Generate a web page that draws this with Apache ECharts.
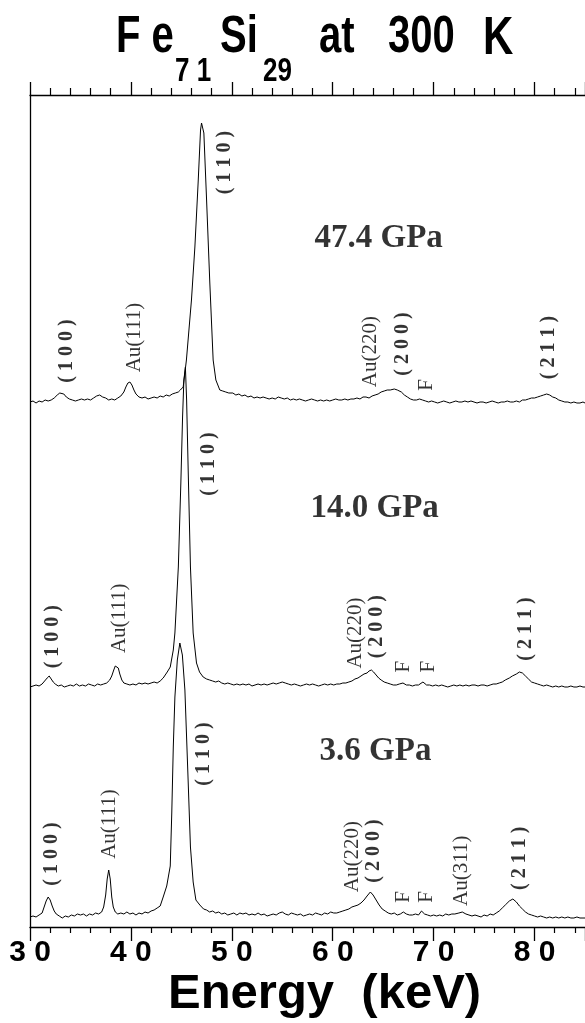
<!DOCTYPE html>
<html><head><meta charset="utf-8">
<script src="https://cdn.jsdelivr.net/npm/echarts@6/dist/echarts.min.js"></script>
<style>html,body{margin:0;padding:0;background:#fff}#c{width:585px;height:1023px}</style>
</head><body><div id="c"></div>
<script>
// ---- data: [energy keV, intensity (arb. units)] ----
const spectrum36 = [[30.0,10],[30.3,11],[30.6,10],[30.9,12],[31.2,14],[31.4,20],[31.6,26],[31.8,30],[32.0,27],[32.2,21],[32.4,16],[32.6,13],[32.9,11],[33.2,9],[33.5,11],[33.8,10],[34.1,12],[34.4,11],[34.7,13],[35.0,12],[35.3,13],[35.6,11],[35.9,13],[36.2,12],[36.5,14],[36.8,13],[37.1,15],[37.3,20],[37.5,32],[37.65,48],[37.8,57],[37.95,48],[38.1,30],[38.25,20],[38.45,15],[38.7,13],[39.0,14],[39.3,13],[39.6,15],[39.9,13],[40.2,14],[40.5,12],[40.8,14],[41.1,13],[41.4,15],[41.7,14],[42.0,16],[42.3,17],[42.6,19],[42.9,21],[43.2,30],[43.55,41],[43.9,61],[44.05,114],[44.2,180],[44.36,230],[44.6,267],[44.85,284],[45.1,272],[45.35,237],[45.67,147],[45.9,80],[46.17,45],[46.44,27],[46.83,22],[47.2,18],[47.5,17],[47.8,15],[48.1,16],[48.4,14],[48.7,15],[49.0,13],[49.3,14],[49.6,12],[49.9,13],[50.2,14],[50.5,12],[50.8,14],[51.1,13],[51.4,14],[51.7,12],[52.0,13],[52.3,12],[52.6,14],[52.9,12],[53.2,13],[53.5,11],[53.8,12],[54.1,13],[54.4,12],[54.7,14],[55.0,15],[55.3,13],[55.6,12],[55.9,14],[56.2,13],[56.5,12],[56.8,13],[57.1,11],[57.4,12],[57.7,13],[58.0,12],[58.3,14],[58.6,13],[58.9,12],[59.2,14],[59.5,13],[59.8,15],[60.1,14],[60.4,14],[60.7,15],[61.0,16],[61.3,17],[61.6,18],[61.9,20],[62.2,21],[62.5,22],[62.8,24],[63.1,27],[63.4,31],[63.73,35],[64.0,32],[64.3,27],[64.6,22],[64.9,18],[65.2,16],[65.5,14],[65.8,13],[66.1,14],[66.4,12],[66.7,13],[67.0,15],[67.3,13],[67.6,12],[67.9,12],[68.2,13],[68.5,12],[68.8,16],[69.1,13],[69.4,12],[69.7,11],[70.0,12],[70.3,11],[70.6,12],[70.9,11],[71.2,13],[71.5,12],[71.8,13],[72.1,13],[72.5,14],[72.84,15],[73.2,13],[73.5,12],[73.8,11],[74.1,12],[74.4,11],[74.7,10],[75.0,12],[75.3,11],[75.6,13],[75.9,12],[76.2,14],[76.5,16],[76.8,19],[77.1,22],[77.5,26],[77.85,28],[78.2,25],[78.5,21],[78.8,18],[79.1,15],[79.4,13],[79.7,12],[80.0,11],[80.3,10],[80.6,11],[80.9,10],[81.2,9],[81.5,10],[81.8,9],[82.1,10],[82.4,9],[82.7,10],[83.0,9],[83.3,10],[83.6,9],[83.9,9],[84.2,10],[84.5,9],[84.8,9],[85.0,9]];

const spectrum140 = [[30.0,9],[30.3,10],[30.6,11],[30.9,10],[31.2,12],[31.45,15],[31.7,18],[31.9,20],[32.1,17],[32.3,14],[32.5,12],[32.8,10],[33.1,11],[33.4,9],[33.7,10],[34.0,11],[34.3,10],[34.6,12],[34.9,10],[35.2,11],[35.5,10],[35.8,12],[36.1,11],[36.4,10],[36.7,12],[37.0,11],[37.3,12],[37.6,13],[37.9,16],[38.1,20],[38.3,26],[38.45,30],[38.6,32],[38.75,28],[38.9,22],[39.1,16],[39.3,13],[39.6,12],[39.9,11],[40.2,12],[40.5,11],[40.8,13],[41.1,12],[41.4,13],[41.7,12],[42.0,13],[42.3,14],[42.6,13],[42.9,15],[43.2,18],[43.6,24],[43.9,29],[44.2,46],[44.36,63],[44.7,129],[44.95,213],[45.12,279],[45.25,316],[45.4,329],[45.52,296],[45.67,229],[45.9,129],[46.17,63],[46.5,33],[46.8,24],[47.16,19],[47.5,17],[47.8,16],[48.1,15],[48.4,14],[48.7,15],[49.0,13],[49.3,12],[49.6,13],[49.9,12],[50.2,11],[50.5,12],[50.8,11],[51.1,12],[51.4,11],[51.7,12],[52.0,10],[52.3,11],[52.6,12],[52.9,11],[53.2,12],[53.5,11],[53.8,12],[54.1,13],[54.4,12],[54.7,13],[55.0,14],[55.3,13],[55.6,12],[55.9,11],[56.2,12],[56.5,11],[56.8,10],[57.1,11],[57.4,12],[57.7,11],[58.0,12],[58.3,11],[58.6,10],[58.9,11],[59.2,12],[59.5,11],[59.8,12],[60.1,11],[60.4,12],[60.7,12],[61.0,13],[61.3,13],[61.6,14],[61.9,15],[62.2,17],[62.5,18],[62.8,20],[63.1,22],[63.4,23],[63.6,25],[63.83,26],[64.05,24],[64.3,21],[64.55,18],[64.8,16],[65.1,14],[65.4,13],[65.7,12],[66.0,11],[66.3,11],[66.6,12],[66.96,13],[67.3,11],[67.6,11],[67.9,10],[68.2,11],[68.5,11],[68.94,14],[69.3,11],[69.6,11],[69.9,10],[70.2,11],[70.5,10],[70.8,11],[71.1,10],[71.4,9],[71.7,10],[72.0,11],[72.3,10],[72.6,11],[72.9,10],[73.2,11],[73.5,10],[73.8,11],[74.1,11],[74.4,10],[74.7,11],[75.0,11],[75.3,10],[75.6,11],[75.9,12],[76.2,12],[76.5,13],[76.8,14],[77.1,16],[77.5,18],[77.8,20],[78.2,22],[78.5,24],[78.8,23],[79.1,20],[79.4,17],[79.7,14],[80.0,13],[80.3,12],[80.6,11],[80.9,10],[81.2,11],[81.5,10],[81.8,9],[82.1,10],[82.4,9],[82.7,10],[83.0,9],[83.3,9],[83.6,10],[83.9,9],[84.2,9],[84.5,10],[84.8,9],[85.0,9]];

const spectrum474 = [[30.0,10],[30.3,11],[30.6,9],[30.9,11],[31.2,10],[31.5,12],[31.8,11],[32.1,12],[32.4,14],[32.7,17],[32.95,19],[33.14,20],[33.35,18],[33.6,15],[33.9,13],[34.2,12],[34.5,11],[34.8,12],[35.1,13],[35.4,12],[35.7,13],[36.0,12],[36.3,14],[36.6,16],[36.9,17],[37.2,15],[37.5,14],[37.8,12],[38.1,13],[38.4,12],[38.7,14],[39.0,16],[39.3,20],[39.5,25],[39.7,29],[39.9,30],[40.1,27],[40.3,22],[40.5,18],[40.8,15],[41.1,14],[41.4,15],[41.7,13],[42.0,14],[42.3,15],[42.6,14],[42.9,16],[43.2,15],[43.5,17],[43.8,16],[44.1,18],[44.4,19],[44.7,20],[44.9,22],[45.18,25],[45.5,52],[46.0,112],[46.34,165],[46.66,229],[46.9,282],[47.0,289],[47.23,279],[47.5,212],[47.82,129],[48.15,52],[48.42,32],[48.81,22],[49.1,21],[49.4,20],[49.7,19],[50.1,19],[50.4,17],[50.7,18],[51.0,16],[51.3,17],[51.6,15],[51.9,16],[52.2,14],[52.5,15],[52.8,14],[53.1,15],[53.4,14],[53.7,13],[54.0,14],[54.3,13],[54.6,15],[54.9,14],[55.2,13],[55.5,14],[55.8,12],[56.1,13],[56.4,12],[56.7,13],[57.0,12],[57.3,11],[57.6,12],[57.9,13],[58.2,12],[58.5,11],[58.8,12],[59.1,11],[59.4,12],[59.7,11],[60.0,12],[60.3,13],[60.6,12],[60.9,12],[61.2,13],[61.5,12],[61.8,13],[62.1,13],[62.4,14],[62.7,13],[63.0,15],[63.3,15],[63.6,14],[63.9,16],[64.2,17],[64.5,18],[64.8,20],[65.1,21],[65.4,22],[65.7,22],[66.1,23],[66.4,22],[66.8,20],[67.1,17],[67.4,15],[67.7,13],[68.0,12],[68.3,12],[68.6,13],[68.9,12],[69.2,11],[69.5,10],[69.8,11],[70.1,10],[70.4,9],[70.7,10],[71.0,11],[71.3,10],[71.6,9],[71.9,10],[72.2,11],[72.5,10],[72.8,10],[73.1,11],[73.4,10],[73.7,11],[74.0,10],[74.3,9],[74.6,10],[74.9,10],[75.2,9],[75.5,10],[75.8,11],[76.1,10],[76.4,9],[76.7,10],[77.0,10],[77.3,11],[77.6,10],[77.9,10],[78.2,11],[78.5,10],[78.8,12],[79.1,12],[79.4,13],[79.7,14],[80.0,14],[80.3,15],[80.6,16],[80.9,17],[81.2,18],[81.5,17],[81.8,15],[82.1,14],[82.4,12],[82.7,11],[83.0,10],[83.3,10],[83.6,9],[83.9,10],[84.2,9],[84.5,9],[84.8,10],[85.0,9]];

const offset36 = 0, offset140 = 231, offset474 = 515;
const pressureLabels = ['3.6 GPa','14.0 GPa','47.4 GPa'];
const xTickValues = [30,40,50,60,70,80];

// annotations: [energy, height above own baseline, text, bold]
const notes36 = [[32.15,73,'( 1 0 0 )',1],[37.92,103,'Au(111)',0],[47.23,173,'( 1 1 0 )',1],[62.0,70.3,'Au(220)',0],[64.1,76,'( 2 0 0 )',1],[67.03,30,'F',0],[69.28,30,'F',0],[72.74,56.2,'Au(311)',0],[78.51,68.7,'( 2 1 1 )',1]];
const notes140 = [[32.3,59.3,'( 1 0 0 )',1],[38.84,77.7,'Au(111)',0],[47.75,232,'( 1 1 0 )',1],[62.28,63,'Au(220)',0],[64.33,69.3,'( 2 0 0 )',1],[67.03,29.3,'F',0],[69.44,29.3,'F',0],[79.18,67,'( 2 1 1 )',1]];
const notes474 = [[33.63,61,'( 1 0 0 )',1],[40.4,74.5,'Au(111)',0],[49.3,249.5,'( 1 1 0 )',1],[63.73,60.3,'Au(220)',0],[66.96,68,'( 2 0 0 )',1],[69.28,27,'F',0],[81.42,64.5,'( 2 1 1 )',1]];
const pressurePos = [[64.24,175.3],[64.16,187.7],[64.55,174]];

// ---- build ----
const chart = echarts.init(document.getElementById('c'), null, {renderer:'canvas'});
function shift(s, off){ return s.map(p=>[p[0], p[1]+off]); }
function lineSeries(s,off){
  return {type:'line', data:shift(s,off), showSymbol:false, symbol:'none', animation:false,
    lineStyle:{color:'#000', width:1}, z:3, silent:true};
}
const serif = 'Liberation Serif';
function noteData(notes, off){
  return notes.map(n=>({value:[n[0], n[1]+off], label:{formatter:n[2], fontWeight:n[3]?'bold':'normal', fontSize:n[3]?20:21}}));
}
const noteItems = [].concat(noteData(notes36,offset36), noteData(notes140,offset140), noteData(notes474,offset474));
const offs = [offset36, offset140, offset474];
const pressItems = pressurePos.map((p,i)=>({value:[p[0], p[1]+offs[i]], label:{formatter:pressureLabels[i]}}));

const axisCol = '#000';
const sans = '"Liberation Sans"';
function titleText(txt, x, y, size){
  return {type:'text', x:x, y:y, scaleY:1.28, originX:0, originY:0,
    style:{text:txt, font:'bold '+size+'px '+sans, fill:'#000', verticalAlign:'top', align:'left'}};
}
const option = {
  animation:false,
  backgroundColor:'#fff',
  grid:{left:30, right:0, top:95, bottom:96, containLabel:false},
  xAxis:[{
    type:'value', position:'bottom', min:30, max:85, interval:10,
    axisLine:{show:true, onZero:false, lineStyle:{color:axisCol, width:1.3}},
    axisTick:{show:true, length:14, lineStyle:{color:axisCol, width:1.3}},
    minorTick:{show:true, splitNumber:5, length:6, lineStyle:{color:axisCol, width:1.2}},
    splitLine:{show:false}, minorSplitLine:{show:false},
    axisLabel:{show:true, margin:11, color:'#000', fontFamily:'Liberation Sans', fontWeight:'bold', fontSize:30,
      formatter:v=> xTickValues.indexOf(v)>=0 ? String(v).split('').join(' ') : '', showMaxLabel:false}
  },{
    type:'value', position:'top', min:30, max:85, interval:10,
    axisLine:{show:true, onZero:false, lineStyle:{color:axisCol, width:1.3}},
    axisTick:{show:true, length:13, lineStyle:{color:axisCol, width:1.3}},
    minorTick:{show:true, splitNumber:5, length:7, lineStyle:{color:axisCol, width:1.2}},
    splitLine:{show:false}, axisLabel:{show:false}
  }],
  yAxis:{type:'value', min:0, max:832, position:'left',
    axisLine:{show:true, onZero:false, lineStyle:{color:axisCol, width:1.3}},
    axisTick:{show:false}, axisLabel:{show:false}, splitLine:{show:false}},
  series:[
    lineSeries(spectrum36,offset36),
    lineSeries(spectrum140,offset140),
    lineSeries(spectrum474,offset474),
    {type:'scatter', data:noteItems, symbolSize:1, itemStyle:{color:'rgba(0,0,0,0)'}, silent:true, z:5,
      label:{show:true, position:'inside', rotate:90, color:'#000', fontFamily:serif, align:'center', verticalAlign:'middle'}},
    {type:'scatter', data:pressItems, symbolSize:1, itemStyle:{color:'rgba(0,0,0,0)'}, silent:true, z:5,
      label:{show:true, position:'inside', color:'#000', fontFamily:serif, fontWeight:'bold', fontSize:33, align:'center', verticalAlign:'middle'}}
  ],
  graphic:[
    titleText('F e', 116, 12, 40),
    titleText('7 1', 175, 55, 26),
    titleText('Si', 220, 12, 40),
    titleText('29', 263, 55, 26),
    titleText('at', 319, 12, 40),
    titleText('300', 388, 12, 40),
    titleText('K', 483, 12, 42),
    {type:'text', x:168, y:970, style:{text:'Energy  (keV)', font:'bold 49px '+sans, fill:'#000', verticalAlign:'top', align:'left'}}
  ]
};
chart.setOption(option);
</script></body></html>
